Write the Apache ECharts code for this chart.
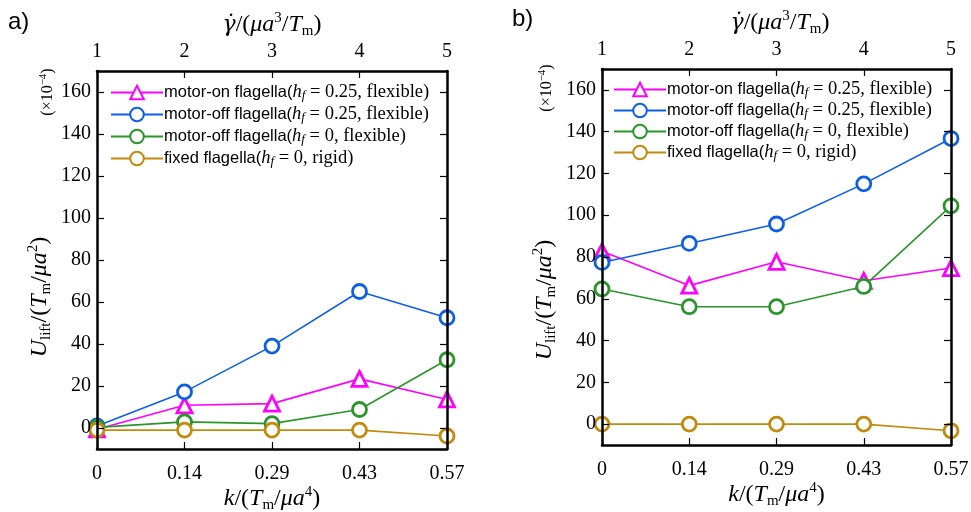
<!DOCTYPE html>
<html>
<head>
<meta charset="utf-8">
<script src="https://cdn.jsdelivr.net/npm/echarts@6/dist/echarts.min.js"></script>
<style>
html,body{margin:0;padding:0;background:#fff;}
#chart{width:971px;height:512px;}
</style>
</head>
<body>
<div id="chart"></div>
<script>
// ---- data ----
var catsK = ['0', '0.14', '0.29', '0.43', '0.57'];
var catsGamma = ['1', '2', '3', '4', '5'];
var yTicks = [0, 20, 40, 60, 80, 100, 120, 140, 160];
var seriesNames = [
  'motor-on flagella (hf=0.25, flexible)',
  'motor-off flagella (hf=0.25, flexible)',
  'motor-off flagella (hf=0, flexible)',
  'fixed flagella (hf=0, rigid)'
];
// panel a
var aMotorOn = [-0.6, 10.8, 11.6, 23.4, 13.6];
var aMotorOff025 = [1.0, 17.2, 39.0, 65.0, 52.5];
var aMotorOff0 = [0.3, 2.9, 2.1, 8.8, 32.5];
var aFixed = [-1.0, -1.0, -1.0, -1.0, -3.8];
// panel b
var bMotorOn = [82.7, 66.3, 77.7, 68.6, 74.7];
var bMotorOff025 = [77.4, 86.5, 95.8, 115.0, 136.7];
var bMotorOff0 = [64.7, 56.2, 56.2, 65.9, 104.5];
var bFixed = [0.0, 0.0, 0.0, 0.0, -3.2];

// ---- styles ----
var colors = ['#ff00ff', '#0d5fe8', '#2a962a', '#c38a0c'];
var symbols = ['triangle', 'circle', 'circle', 'circle'];
var serif = '"Liberation Serif", "DejaVu Serif", serif';
var sans = '"Liberation Sans", Arial, sans-serif';

var legendRich = {
  s: {fontFamily: sans, fontSize: 16.5, color: '#000', lineHeight: 19},
  i: {fontFamily: serif, fontStyle: 'italic', fontSize: 18.5, color: '#000', lineHeight: 19},
  sub: {fontFamily: serif, fontStyle: 'italic', fontSize: 13, color: '#000', verticalAlign: 'bottom', lineHeight: 19, padding: [6, 0, 0, 0]},
  m: {fontFamily: serif, fontSize: 18.5, color: '#000', lineHeight: 19}
};
var legendTexts = {};
legendTexts[seriesNames[0]] = '{s|motor-on flagella(}{i|h}{sub|f}{m| = 0.25, flexible)}';
legendTexts[seriesNames[1]] = '{s|motor-off flagella(}{i|h}{sub|f}{m| = 0.25, flexible)}';
legendTexts[seriesNames[2]] = '{s|motor-off flagella(}{i|h}{sub|f}{m| = 0, flexible)}';
legendTexts[seriesNames[3]] = '{s|fixed flagella(}{i|h}{sub|f}{m| = 0, rigid)}';

var mathRich = {
  i: {fontFamily: serif, fontStyle: 'italic', fontSize: 24, color: '#000', lineHeight: 28},
  g: {fontFamily: '"DejaVu Serif", serif', fontStyle: 'italic', fontSize: 22, color: '#000', lineHeight: 28},
  n: {fontFamily: serif, fontSize: 24, color: '#000', lineHeight: 28},
  sup: {fontFamily: serif, fontSize: 15, color: '#000', verticalAlign: 'top', lineHeight: 17},
  sub: {fontFamily: serif, fontSize: 15, color: '#000', verticalAlign: 'bottom', lineHeight: 13}
};
var smallRich = {
  n: {fontFamily: serif, fontSize: 16, color: '#000', lineHeight: 20},
  sup: {fontFamily: serif, fontSize: 11, color: '#000', verticalAlign: 'top', lineHeight: 11}
};

var kName = '{i|k}{n|/(}{i|T}{sub|m}{n|/}{i|μa}{sup|4}{n|)}';
var gName = '{g|γ̇}{n|/(}{i|μa}{sup|3}{n|/}{i|T}{sub|m}{n|)}';
var yName = '{i|U}{sub|lift}{n|/(}{i|T}{sub|m}{n|/}{i|μa}{sup|2}{n|)}';
var scaleName = '{n|(×10}{sup|−4}{n|)}';

var panels = [
  {grid: {left: 97, top: 71, width: 350, height: 378}, legend: {left: 110, top: 83, gap: 2.0},
   data: [aMotorOn, aMotorOff025, aMotorOff0, aFixed], tag: 'a)', tagX: 8, tagY: 24, yNameX: 40, yNameY: 297, scaleX: 48, scaleY: 92,
   topNameX: 272, topNameY: 25},
  {grid: {left: 602, top: 69, width: 349, height: 376}, legend: {left: 613, top: 80, gap: 1.0},
   data: [bMotorOn, bMotorOff025, bMotorOff0, bFixed], tag: 'b)', tagX: 512, tagY: 21, yNameX: 545, yNameY: 300, scaleX: 547, scaleY: 88,
   topNameX: 780, topNameY: 23}
];

var option = {
  backgroundColor: '#fff',
  animation: false,
  grid: [], xAxis: [], yAxis: [], series: [], legend: [], graphic: []
};

var axisLineStyle = {show: true, onZero: false, lineStyle: {color: '#000', width: 2.5}};
var tickStyle = {show: true, inside: true, length: 7, lineStyle: {color: '#000', width: 1.2}};
var labelFont = {fontFamily: serif, fontSize: 20, color: '#000'};

panels.forEach(function (p, pi) {
  var g = Object.assign({outerBoundsMode: 'none', containLabel: false}, p.grid);
  option.grid.push(g);
  // bottom x
  option.xAxis.push({
    type: 'category', gridIndex: pi, position: 'bottom', data: catsK, boundaryGap: false,
    axisLine: axisLineStyle, axisTick: tickStyle, z: 10,
    axisLabel: Object.assign({margin: 15}, labelFont),
    splitLine: {show: false},
    name: kName, nameLocation: 'middle', nameGap: 36, nameMoveOverlap: false,
    nameTextStyle: {rich: mathRich}
  });
  // top x
  option.xAxis.push({
    type: 'category', gridIndex: pi, position: 'top', data: catsGamma, boundaryGap: false,
    axisLine: axisLineStyle, axisTick: tickStyle, z: 10,
    axisLabel: Object.assign({margin: 9}, labelFont),
    splitLine: {show: false}
  });
  // left y
  option.yAxis.push({
    type: 'value', gridIndex: pi, position: 'left', min: -10, max: 170,
    axisLine: axisLineStyle, z: 10,
    axisTick: Object.assign({customValues: yTicks}, tickStyle),
    axisLabel: Object.assign({margin: 6, customValues: yTicks}, labelFont),
    splitLine: {show: false}
  });
  // right y
  option.yAxis.push({
    type: 'value', gridIndex: pi, position: 'right', min: -10, max: 170,
    axisLine: axisLineStyle, z: 10,
    axisTick: Object.assign({customValues: yTicks}, tickStyle),
    axisLabel: {show: false},
    splitLine: {show: false}
  });
  p.data.forEach(function (arr, si) {
    option.series.push({
      type: 'line', name: seriesNames[si],
      xAxisIndex: pi * 2, yAxisIndex: pi * 2,
      data: arr,
      symbol: symbols[si], symbolSize: si === 0 ? 15 : 14,
      showAllSymbol: true,
      lineStyle: {color: colors[si], width: 1.6},
      itemStyle: {color: '#fff', borderColor: colors[si], borderWidth: 2.8},
      emphasis: {disabled: true},
      z: 2 + si
    });
  });
  option.legend.push({
    orient: 'vertical', left: p.legend.left, top: p.legend.top,
    itemWidth: 52, itemHeight: 17, itemGap: p.legend.gap + 1,
    padding: 0, selectedMode: false,
    data: seriesNames,
    formatter: function (name) { return legendTexts[name]; },
    textStyle: {rich: legendRich, padding: [0, 0, 0, -4]}
  });
  option.graphic.push({
    type: 'text', left: p.tagX, top: p.tagY - 14,
    style: {text: p.tag, font: '24px ' + sans, fill: '#000'}
  });
  option.graphic.push({
    type: 'text', x: p.topNameX, y: p.topNameY,
    style: {text: gName, rich: mathRich, align: 'center', verticalAlign: 'middle'}
  });
  option.graphic.push({
    type: 'text', x: p.yNameX, y: p.yNameY, rotation: Math.PI / 2,
    style: {text: yName, rich: mathRich, align: 'center', verticalAlign: 'middle'}
  });
  option.graphic.push({
    type: 'text', x: p.scaleX, y: p.scaleY, rotation: Math.PI / 2,
    style: {text: scaleName, rich: smallRich, align: 'center', verticalAlign: 'middle'}
  });
});

var chart = echarts.init(document.getElementById('chart'), null, {renderer: 'canvas'});
chart.setOption(option);
</script>
</body>
</html>
